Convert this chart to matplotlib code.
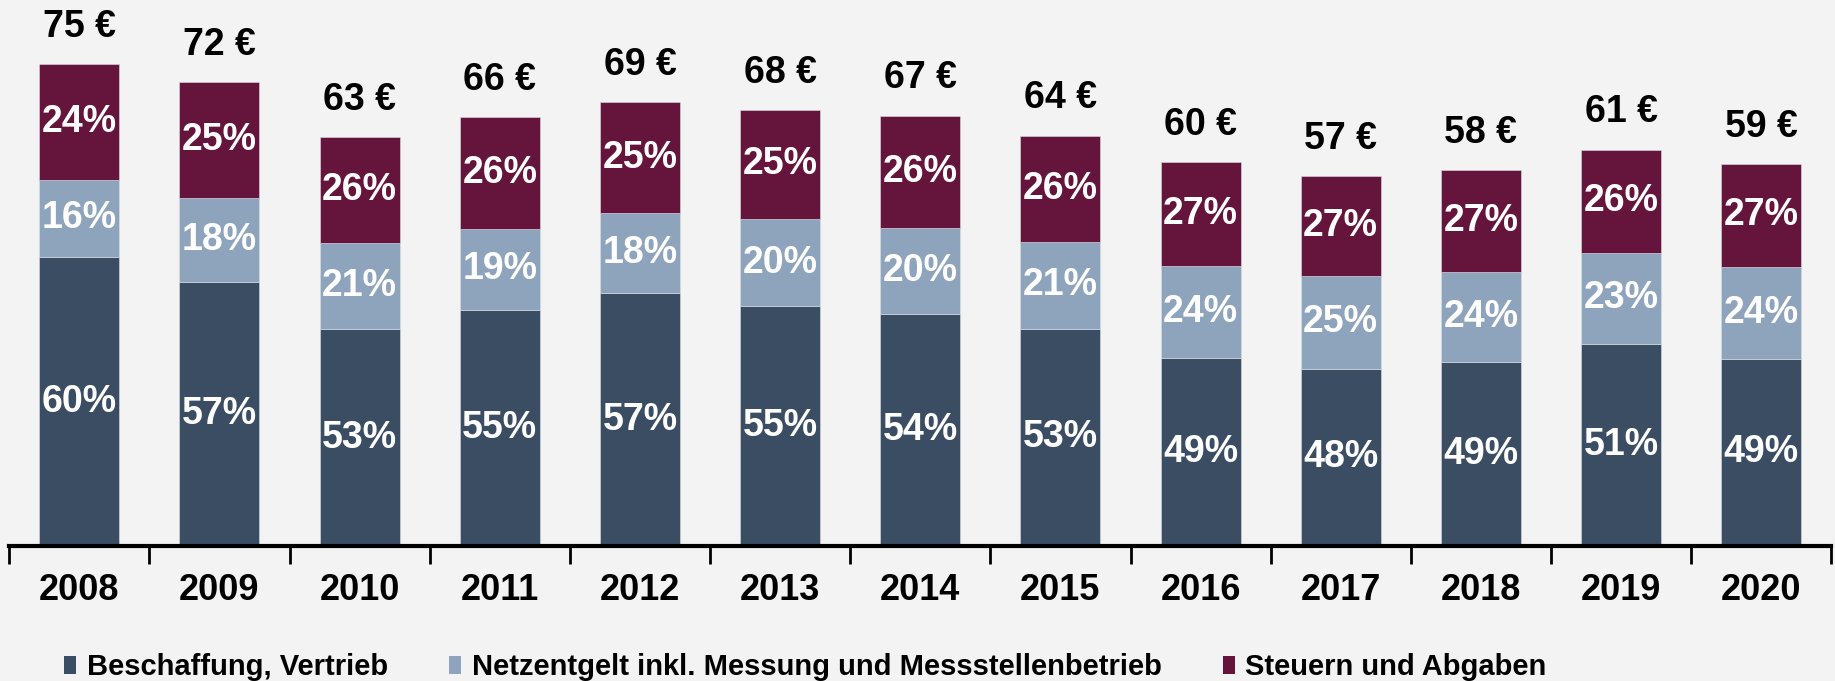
import numpy as np
import matplotlib
matplotlib.use("Agg")
import matplotlib.pyplot as plt
from matplotlib.patches import Patch

# data
years = ["2008", "2009", "2010", "2011", "2012", "2013", "2014",
         "2015", "2016", "2017", "2018", "2019", "2020"]
total_labels = [75, 72, 63, 66, 69, 68, 67, 64, 60, 57, 58, 61, 59]
# bar heights in € as measured (labels are rounded/truncated)
totals = [75.0, 72.2, 63.7, 66.8, 69.1, 67.9, 67.0, 63.9, 59.8, 57.6, 58.5, 61.7, 59.5]
pct_beschaffung = [60, 57, 53, 55, 57, 55, 54, 53, 49, 48, 49, 51, 49]
pct_netz = [16, 18, 21, 19, 18, 20, 20, 21, 24, 25, 24, 23, 24]
pct_steuern = [24, 25, 26, 26, 25, 25, 26, 26, 27, 27, 27, 26, 27]
series_names = ["Beschaffung, Vertrieb",
                "Netzentgelt inkl. Messung und Messstellenbetrieb",
                "Steuern und Abgaben"]

colors = ["#3a4d63", "#8ea4bd", "#65143c"]
bg = "#f3f3f3"

plt.rcParams["font.family"] = ["Liberation Sans", "DejaVu Sans"]
plt.rcParams["font.weight"] = "bold"

fig = plt.figure(figsize=(18.35, 6.81), dpi=100, facecolor=bg)
ax = fig.add_axes([0.005, 0.198, 0.993, 0.802])
ax.set_facecolor(bg)

x = np.arange(len(years))
tot = np.array(totals)
bottom = np.zeros(len(years))
handles = []
for pct, col, name in zip([pct_beschaffung, pct_netz, pct_steuern], colors, series_names):
    h = tot * np.array(pct) / 100.0
    ax.bar(x, h, bottom=bottom, width=0.57, color=col, edgecolor="#d9dde3", linewidth=0.4)
    for xi, b, hi, p in zip(x, bottom, h, pct):
        ax.text(xi, b + hi / 2, f"{p}%", ha="center", va="center",
                color="white", fontsize=27, fontweight="bold")
    bottom += h
    handles.append(Patch(facecolor=col, edgecolor="none", label=name))

for xi, t, lab in zip(x, totals, total_labels):
    ax.text(xi, t + 5.8, f"{lab} €", ha="center", va="center",
            color="black", fontsize=27, fontweight="bold")

ax.set_xlim(-0.5, len(years) - 0.5)
ax.set_ylim(0, 85)
for s in ["top", "right", "left"]:
    ax.spines[s].set_visible(False)
ax.spines["bottom"].set_linewidth(3)
ax.set_yticks([])

# labels centred under bars, ticks at the category boundaries
ax.set_xticks(x)
ax.set_xticklabels(years, fontsize=26, fontweight="bold")
ax.tick_params(axis="x", which="major", length=0, pad=19)
ax.set_xticks(np.arange(len(years) + 1) - 0.5, minor=True)
ax.tick_params(axis="x", which="minor", length=13, width=2, direction="out")

fig.legend(handles=handles, loc="center left", bbox_to_anchor=(0.035, 0.02),
           ncol=3, frameon=False, handlelength=0.42, handleheight=0.55,
           handletextpad=0.35, columnspacing=2.1, borderpad=0, borderaxespad=0,
           prop={"weight": "bold", "size": 21})

fig.savefig("out.png", dpi=100, facecolor=bg)
